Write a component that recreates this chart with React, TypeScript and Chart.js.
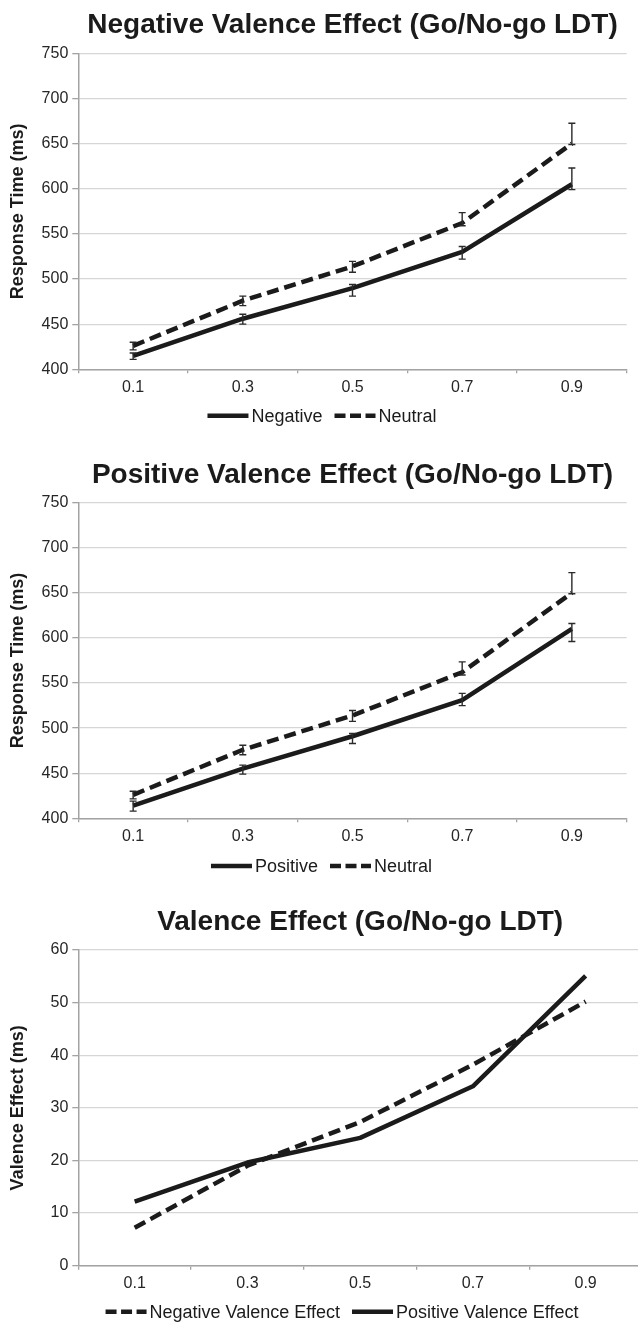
import React, { useEffect, useRef } from 'react';
import Chart from 'chart.js/auto';

// ---------- data ----------
const categories = ['0.1', '0.3', '0.5', '0.7', '0.9'];

const negativeRT = [415, 456, 490, 530, 605];
const negativeErrPlus = [3, 5, 4, 6, 18];
const negativeErrMinus = [4, 6, 9, 8, 6];

const positiveRT = [414, 455, 491, 531, 610];
const positiveErrPlus = [5, 4, 3, 7.5, 6];
const positiveErrMinus = [6, 6, 8, 6, 14];

const neutralRT = [426, 476, 514, 562, 650];
const neutralErrPlus = [4, 5, 5.5, 11.5, 22.5];
const neutralErrMinus = [4.5, 5.5, 6.5, 3, 1];

const negativeValenceEffect = [7.2, 19, 27.3, 38.2, 50.2];
const positiveValenceEffect = [12.2, 19.6, 24.3, 34.1, 55.1];

const rtTicks = { min: 400, max: 750, step: 50 };
const veTicks = { min: 0, max: 60, step: 10 };

// ---------- style ----------
const FONT = '"Liberation Sans", Arial, Helvetica, sans-serif';
const INK = '#1b1b1b';
const TICK = '#262626';
const GRID = '#d6d6d6';
const AXIS = '#a3a3a3';

type Series = {
  label: string;
  data: number[];
  dashed: boolean;
  errPlus?: number[];
  errMinus?: number[];
};

type Panel = {
  title: string;
  yTitle: string;
  yMin: number;
  yMax: number;
  yStep: number;
  series: Series[];
  width: number;
  height: number;
  top: number;
  bottom: number;
  right: number;
  titleBaseline: number;
  legendY: number;
  legendCX: number;
};

const LEFT = 78.3;
const XAXIS_H = 30;

const panels: Panel[] = [
  {
    title: 'Negative Valence Effect (Go/No-go LDT)',
    yTitle: 'Response Time (ms)',
    yMin: rtTicks.min,
    yMax: rtTicks.max,
    yStep: rtTicks.step,
    series: [
      { label: 'Negative', data: negativeRT, dashed: false, errPlus: negativeErrPlus, errMinus: negativeErrMinus },
      { label: 'Neutral', data: neutralRT, dashed: true, errPlus: neutralErrPlus, errMinus: neutralErrMinus },
    ],
    width: 638,
    height: 440,
    top: 53.3,
    bottom: 369.3,
    right: 626.7,
    titleBaseline: 33.3,
    legendY: 415.7,
    legendCX: 322,
  },
  {
    title: 'Positive Valence Effect (Go/No-go LDT)',
    yTitle: 'Response Time (ms)',
    yMin: rtTicks.min,
    yMax: rtTicks.max,
    yStep: rtTicks.step,
    series: [
      { label: 'Positive', data: positiveRT, dashed: false, errPlus: positiveErrPlus, errMinus: positiveErrMinus },
      { label: 'Neutral', data: neutralRT, dashed: true, errPlus: neutralErrPlus, errMinus: neutralErrMinus },
    ],
    width: 638,
    height: 440,
    top: 62.7,
    bottom: 378.3,
    right: 626.7,
    titleBaseline: 43.3,
    legendY: 426,
    legendCX: 321.5,
  },
  {
    title: 'Valence Effect (Go/No-go LDT)',
    yTitle: 'Valence Effect (ms)',
    yMin: veTicks.min,
    yMax: veTicks.max,
    yStep: veTicks.step,
    series: [
      { label: 'Negative Valence Effect', data: negativeValenceEffect, dashed: true },
      { label: 'Positive Valence Effect', data: positiveValenceEffect, dashed: false },
    ],
    width: 650,
    height: 444,
    top: 70,
    bottom: 385.7,
    right: 642,
    titleBaseline: 50,
    legendY: 431.7,
    legendCX: 342,
  },
];

function makeDecor(panel: Panel) {
  return {
    id: 'panelDecor',
    afterDatasetsDraw(chart: any) {
      const ctx = chart.ctx as CanvasRenderingContext2D;
      const y = chart.scales.y;
      panel.series.forEach((s, i) => {
        if (!s.errPlus || !s.errMinus) return;
        const meta = chart.getDatasetMeta(i);
        meta.data.forEach((el: any, j: number) => {
          const x = el.x;
          const yt = y.getPixelForValue(s.data[j] + s.errPlus![j]);
          const yb = y.getPixelForValue(s.data[j] - s.errMinus![j]);
          ctx.save();
          ctx.strokeStyle = '#2a2a2a';
          ctx.lineWidth = 1.4;
          ctx.setLineDash([]);
          ctx.beginPath();
          ctx.moveTo(x, yt);
          ctx.lineTo(x, yb);
          ctx.moveTo(x - 3.5, yt);
          ctx.lineTo(x + 3.5, yt);
          ctx.moveTo(x - 3.5, yb);
          ctx.lineTo(x + 3.5, yb);
          ctx.stroke();
          ctx.restore();
        });
      });
    },
    afterDraw(chart: any) {
      const ctx = chart.ctx as CanvasRenderingContext2D;
      const area = chart.chartArea;
      ctx.save();
      // title
      ctx.font = `bold 28px ${FONT}`;
      ctx.fillStyle = INK;
      ctx.textAlign = 'center';
      ctx.textBaseline = 'alphabetic';
      ctx.fillText(panel.title, (area.left + area.right) / 2, panel.titleBaseline);
      // legend
      ctx.font = `18px ${FONT}`;
      ctx.textAlign = 'left';
      ctx.textBaseline = 'middle';
      const sample = 41;
      const gapAfter = 3;
      const between = 12;
      const items = panel.series.map((s) => ({ s, w: ctx.measureText(s.label).width }));
      const total =
        items.reduce((a, it) => a + sample + gapAfter + it.w, 0) + between * (items.length - 1);
      let x = panel.legendCX - total / 2;
      for (const it of items) {
        ctx.beginPath();
        ctx.strokeStyle = INK;
        ctx.lineWidth = 4.5;
        ctx.lineCap = 'butt';
        ctx.setLineDash(it.s.dashed ? [11, 4.5] : []);
        ctx.moveTo(x, panel.legendY);
        ctx.lineTo(x + sample, panel.legendY);
        ctx.stroke();
        ctx.setLineDash([]);
        ctx.fillStyle = INK;
        ctx.fillText(it.s.label, x + sample + gapAfter, panel.legendY + 1);
        x += sample + gapAfter + it.w + between;
      }
      ctx.restore();
    },
  };
}

function ChartPanel({ panel }: { panel: Panel }) {
  const ref = useRef<HTMLCanvasElement | null>(null);

  useEffect(() => {
    if (!ref.current) return;
    const chart = new Chart(ref.current, {
      type: 'line',
      data: {
        labels: categories,
        datasets: panel.series.map((s) => ({
          label: s.label,
          data: s.data,
          borderColor: INK,
          backgroundColor: INK,
          borderWidth: 4.5,
          borderDash: s.dashed ? [12, 6] : [],
          borderCapStyle: 'butt',
          borderJoinStyle: 'round',
          pointRadius: 0,
          pointHoverRadius: 0,
          tension: 0,
          fill: false,
        })),
      },
      options: {
        responsive: false,
        animation: false,
        devicePixelRatio: 1,
        layout: {
          padding: {
            top: panel.top,
            right: panel.width - panel.right,
            bottom: panel.height - panel.bottom - XAXIS_H,
            left: 0,
          },
        },
        plugins: {
          legend: { display: false },
          title: { display: false },
          tooltip: { enabled: false },
        },
        scales: {
          x: {
            type: 'category',
            offset: true,
            grid: {
              offset: true,
              drawOnChartArea: false,
              tickLength: 4,
              color: AXIS,
              tickColor: AXIS,
              lineWidth: 1.3,
            },
            border: { color: AXIS, width: 1.5 },
            ticks: {
              font: { family: FONT, size: 16 },
              color: TICK,
              padding: 4.5,
              maxRotation: 0,
              autoSkip: false,
            },
            afterFit: (s: any) => {
              s.height = XAXIS_H;
            },
          },
          y: {
            min: panel.yMin,
            max: panel.yMax,
            ticks: {
              stepSize: panel.yStep,
              font: { family: FONT, size: 16 },
              color: TICK,
              padding: 4,
            },
            grid: {
              color: GRID,
              lineWidth: 1.3,
              tickLength: 6,
              tickColor: AXIS,
            },
            border: { color: AXIS, width: 1.5 },
            title: {
              display: true,
              text: panel.yTitle,
              font: { family: FONT, size: 18, weight: 'bold' },
              color: INK,
              padding: { top: 7, bottom: 0 },
            },
            afterFit: (s: any) => {
              s.width = LEFT;
            },
          },
        },
      } as any,
      plugins: [makeDecor(panel)],
    });
    return () => chart.destroy();
  }, [panel]);

  return (
    <canvas
      ref={ref}
      width={panel.width}
      height={panel.height}
      style={{ display: 'block', width: panel.width, height: panel.height }}
    />
  );
}

export default function App() {
  useEffect(() => {
    document.body.style.margin = '0';
    document.body.style.background = '#ffffff';
  }, []);
  return (
    <div style={{ width: 638, overflow: 'hidden', background: '#ffffff' }}>
      {panels.map((p, i) => (
        <ChartPanel key={i} panel={p} />
      ))}
    </div>
  );
}
